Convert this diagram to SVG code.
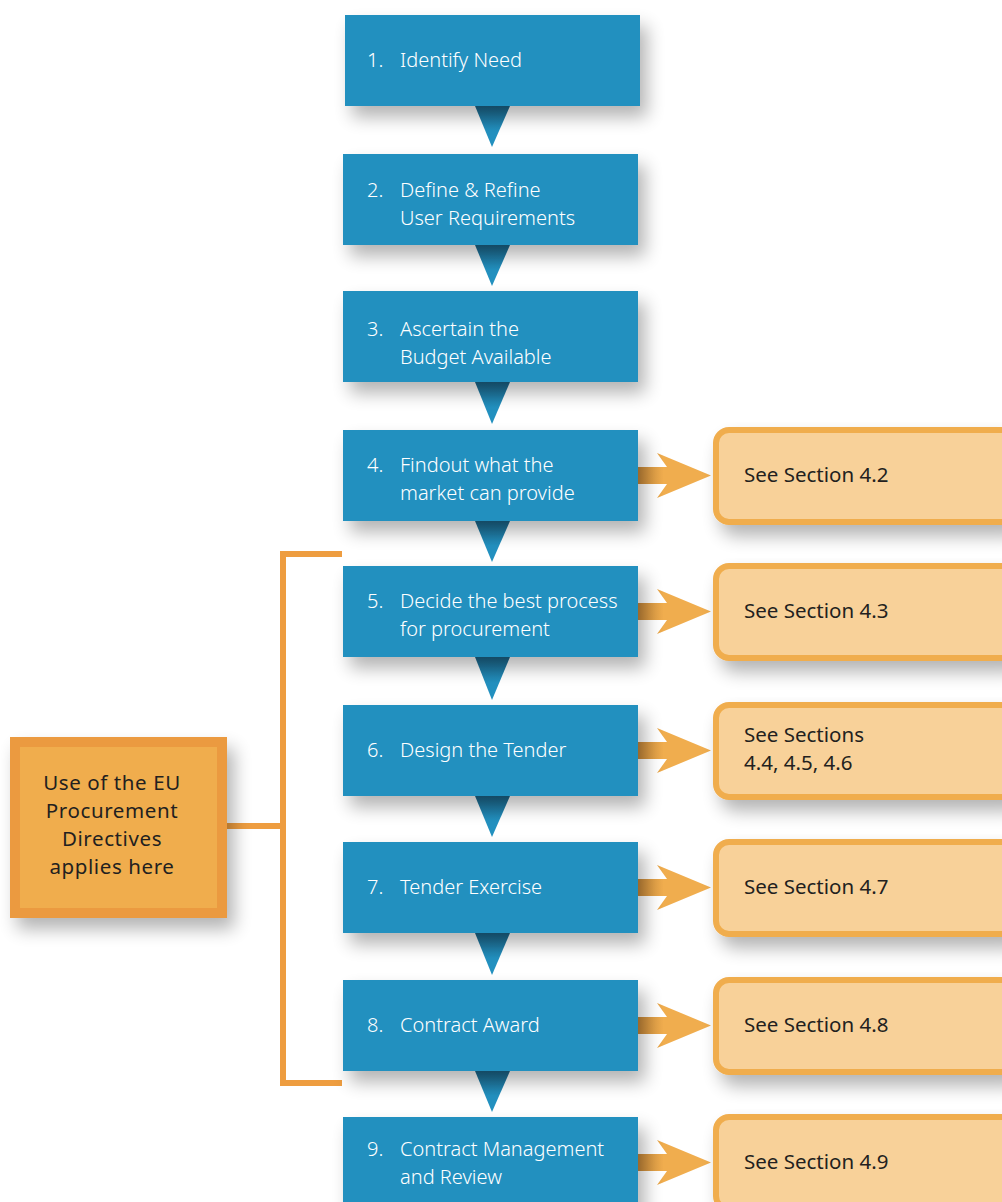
<svg xmlns="http://www.w3.org/2000/svg" width="1002" height="1202" viewBox="0 0 1002 1202">
<style>
.bx{fill:#2290BF;filter:url(#sh)}
.bt{font-family:"Noto Sans","Open Sans",sans-serif;font-size:20px;font-weight:300;fill:#ffffff}
.ob{fill:#F8D199;stroke:#F0AD4E;stroke-width:6;filter:url(#sh)}
.ot{font-family:"Noto Sans","Open Sans",sans-serif;font-size:20.5px;fill:#231F20}
.et{font-family:"Noto Sans","Open Sans",sans-serif;font-size:20.5px;letter-spacing:0.6px;fill:#231F20}
.tri{fill:url(#tg)}
.arr{fill:url(#ag)}
.br{fill:none;stroke:#EE9D40;stroke-width:6}
</style>
<defs>
<filter id="sh" x="-20%" y="-20%" width="150%" height="160%">
<feGaussianBlur in="SourceAlpha" stdDeviation="9"/>
<feOffset dx="7" dy="11" result="b"/>
<feComponentTransfer><feFuncA type="linear" slope="0.3"/></feComponentTransfer>
<feMerge><feMergeNode/><feMergeNode in="SourceGraphic"/></feMerge>
</filter>
<linearGradient id="tg" x1="0" y1="0" x2="0" y2="1">
<stop offset="0" stop-color="#1B6589"/>
<stop offset="0.6" stop-color="#2290BF"/>
</linearGradient>
<linearGradient id="ag" x1="0" y1="0" x2="1" y2="0">
<stop offset="0" stop-color="#C8893A"/>
<stop offset="0.35" stop-color="#F0AD4E"/>
</linearGradient>
</defs>
<g id="connectors">
<polygon class="tri" points="475,106 510,106 492,147"/>
<polygon class="tri" points="475,245 510,245 492,286"/>
<polygon class="tri" points="475,382 510,382 492,424"/>
<polygon class="tri" points="475,521 510,521 492,562"/>
<polygon class="tri" points="475,657 510,657 492,700"/>
<polygon class="tri" points="475,796 510,796 492,837"/>
<polygon class="tri" points="475,933 510,933 492,975"/>
<polygon class="tri" points="475,1071 510,1071 492,1112"/>
<polygon class="arr" points="638,467 667,467 657,453 711,475.5 657,498 667,484 638,484"/>
<polygon class="arr" points="638,603 667,603 657,589 711,611.5 657,634 667,620 638,620"/>
<polygon class="arr" points="638,742 667,742 657,728 711,750.5 657,773 667,759 638,759"/>
<polygon class="arr" points="638,879 667,879 657,865 711,887.5 657,910 667,896 638,896"/>
<polygon class="arr" points="638,1017 667,1017 657,1003 711,1025.5 657,1048 667,1034 638,1034"/>
<polygon class="arr" points="638,1154 667,1154 657,1140 711,1162.5 657,1185 667,1171 638,1171"/>
<polyline class="br" points="342,554 283,554 283,1083 342,1083"/>
<line class="br" x1="227" y1="826" x2="283" y2="826"/>
</g>
<g id="n1"><rect class="bx" x="345" y="15" width="295" height="91"/><text class="bt" x="367" y="67">1.</text><text class="bt" x="400" y="67">Identify Need</text></g>
<g id="n2"><rect class="bx" x="343" y="154" width="295" height="91"/><text class="bt" x="367" y="197">2.</text><text class="bt" x="400" y="197">Define &amp; Refine</text><text class="bt" x="400" y="225">User Requirements</text></g>
<g id="n3"><rect class="bx" x="343" y="291" width="295" height="91"/><text class="bt" x="367" y="336">3.</text><text class="bt" x="400" y="336">Ascertain the</text><text class="bt" x="400" y="364">Budget Available</text></g>
<g id="n4"><rect class="bx" x="343" y="430" width="295" height="91"/><text class="bt" x="367" y="472">4.</text><text class="bt" x="400" y="472">Findout what the</text><text class="bt" x="400" y="500">market can provide</text></g>
<g id="n5"><rect class="bx" x="343" y="566" width="295" height="91"/><text class="bt" x="367" y="608">5.</text><text class="bt" x="400" y="608">Decide the best process</text><text class="bt" x="400" y="636">for procurement</text></g>
<g id="n6"><rect class="bx" x="343" y="705" width="295" height="91"/><text class="bt" x="367" y="757">6.</text><text class="bt" x="400" y="757">Design the Tender</text></g>
<g id="n7"><rect class="bx" x="343" y="842" width="295" height="91"/><text class="bt" x="367" y="894">7.</text><text class="bt" x="400" y="894">Tender Exercise</text></g>
<g id="n8"><rect class="bx" x="343" y="980" width="295" height="91"/><text class="bt" x="367" y="1032">8.</text><text class="bt" x="400" y="1032">Contract Award</text></g>
<g id="n9"><rect class="bx" x="343" y="1117" width="295" height="100"/><text class="bt" x="367" y="1156">9.</text><text class="bt" x="400" y="1156">Contract Management</text><text class="bt" x="400" y="1184">and Review</text></g>
<g id="s42"><rect class="ob" x="716" y="430" width="300" height="92" rx="13"/><text class="ot" x="744" y="482">See Section 4.2</text></g>
<g id="s43"><rect class="ob" x="716" y="566" width="300" height="92" rx="13"/><text class="ot" x="744" y="618">See Section 4.3</text></g>
<g id="s44"><rect class="ob" x="716" y="705" width="300" height="92" rx="13"/><text class="ot" x="744" y="742">See Sections</text><text class="ot" x="744" y="770">4.4, 4.5, 4.6</text></g>
<g id="s47"><rect class="ob" x="716" y="842" width="300" height="92" rx="13"/><text class="ot" x="744" y="894">See Section 4.7</text></g>
<g id="s48"><rect class="ob" x="716" y="980" width="300" height="92" rx="13"/><text class="ot" x="744" y="1032">See Section 4.8</text></g>
<g id="s49"><rect class="ob" x="716" y="1117" width="300" height="92" rx="13"/><text class="ot" x="744" y="1169">See Section 4.9</text></g>
<g id="eu"><rect x="15" y="742" width="207" height="171" fill="#F0AD4E" stroke="#EB9A3F" stroke-width="10" filter="url(#sh)"/>
<text class="et" text-anchor="middle" x="112" y="790">Use of the EU</text><text class="et" text-anchor="middle" x="112" y="818">Procurement</text><text class="et" text-anchor="middle" x="112" y="846">Directives</text><text class="et" text-anchor="middle" x="112" y="874">applies here</text></g>
</svg>
